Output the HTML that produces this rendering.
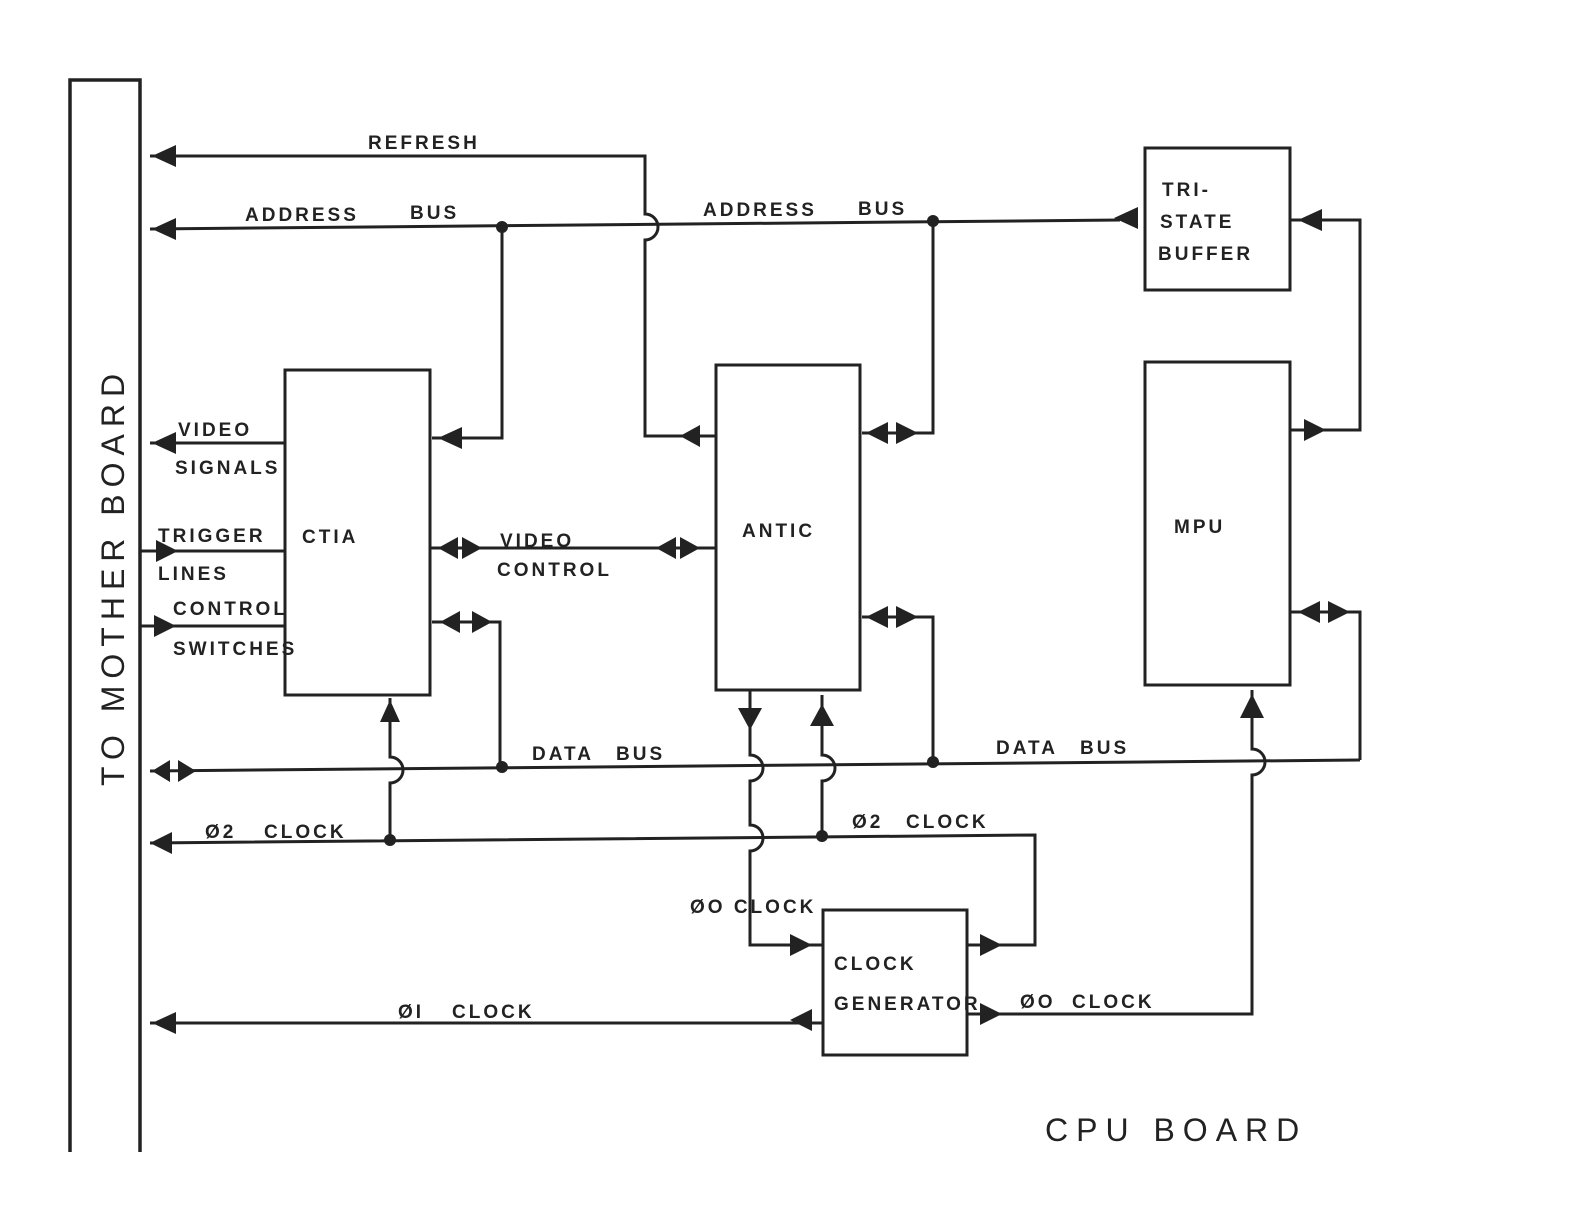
<!DOCTYPE html>
<html><head><style>
html,body{margin:0;padding:0;background:#fff;}
svg{display:block;}
text{font-family:"Liberation Sans",sans-serif;font-weight:bold;fill:#222;font-size:19px;letter-spacing:3px;}
</style></head><body>
<svg width="1584" height="1228" viewBox="0 0 1584 1228" xmlns="http://www.w3.org/2000/svg">
<g stroke="#222" stroke-width="3" fill="none">
<path d="M70 1152 V80 H140 V1152" stroke-width="3.5"/>
<path d="M150 156 H645 V214 A13 13 0 0 1 645 240 V436 H716"/>
<path d="M150 229 L1120 220"/>
<path d="M502 227 V438 H432"/>
<path d="M933 221 V433 H862"/>
<rect x="1145" y="148" width="145" height="142"/>
<rect x="1145" y="362" width="145" height="323"/>
<path d="M1290 220 H1360 V430 H1290"/>
<path d="M1290 612 H1360 V760"/>
<path d="M150 771 L1360 760"/>
<path d="M432 622 H500 V768"/>
<path d="M862 617 H933 V762"/>
<rect x="285" y="370" width="145" height="325"/>
<path d="M150 443 H285 M140 551 H285 M140 626 H285"/>
<path d="M430 548 H716"/>
<path d="M390 838 V783 A13 13 0 0 0 390 757 V698"/>
<path d="M150 843 L1035 835 V945 H967"/>
<rect x="716" y="365" width="144" height="325"/>
<path d="M750 690 V755 A13 13 0 0 1 750 781 V825 A13 13 0 0 1 750 851 V945 H823"/>
<path d="M822 836 V781 A13 13 0 0 0 822 755 V695"/>
<rect x="823" y="910" width="144" height="145"/>
<path d="M150 1023 H823"/>
<path d="M967 1014 H1252 V775 A13 13 0 0 0 1252 749 V690"/>
</g>
<g fill="#222">
<circle cx="502" cy="227" r="6"/><circle cx="933" cy="221" r="6"/>
<circle cx="502" cy="767" r="6"/><circle cx="933" cy="762" r="6"/>
<circle cx="390" cy="840" r="6"/><circle cx="822" cy="836" r="6"/>
<polygon points="152,156 176,145 176,167"/>
<polygon points="152,229 176,218 176,240"/>
<polygon points="152,443 176,432 176,454"/>
<polygon points="178,551 156,540 156,562"/>
<polygon points="176,626 154,615 154,637"/>
<polygon points="152,771 170,760 170,782"/><polygon points="196,771 178,760 178,782"/>
<polygon points="150,843 172,832 172,854"/>
<polygon points="152,1023 176,1012 176,1034"/>
<polygon points="438,438 462,427 462,449"/>
<polygon points="438,548 458,537 458,559"/><polygon points="482,548 462,537 462,559"/>
<polygon points="440,622 460,611 460,633"/><polygon points="492,622 472,611 472,633"/>
<polygon points="390,700 380,722 400,722"/>
<polygon points="656,548 676,537 676,559"/><polygon points="700,548 680,537 680,559"/>
<polygon points="680,436 700,425 700,447"/>
<polygon points="866,433 888,422 888,444"/><polygon points="918,433 896,422 896,444"/>
<polygon points="866,617 888,606 888,628"/><polygon points="918,617 896,606 896,628"/>
<polygon points="750,730 738,708 762,708"/>
<polygon points="822,704 810,726 834,726"/>
<polygon points="1114,218 1138,207 1138,229"/>
<polygon points="1298,220 1322,209 1322,231"/>
<polygon points="1326,430 1304,419 1304,441"/>
<polygon points="1298,612 1320,601 1320,623"/><polygon points="1350,612 1328,601 1328,623"/>
<polygon points="1252,694 1240,718 1264,718"/>
<polygon points="812,945 790,934 790,956"/>
<polygon points="1002,945 980,934 980,956"/>
<polygon points="790,1020 812,1009 812,1031"/>
<polygon points="1002,1014 980,1003 980,1025"/>
</g>
<text x="368" y="149">REFRESH</text>
<text x="245" y="221">ADDRESS</text><text x="410" y="219">BUS</text>
<text x="703" y="216">ADDRESS</text><text x="858" y="215">BUS</text>
<text x="1162" y="196">TRI-</text>
<text x="1160" y="228">STATE</text>
<text x="1158" y="260">BUFFER</text>
<text x="1174" y="533">MPU</text>
<text x="178" y="436">VIDEO</text>
<text x="175" y="474">SIGNALS</text>
<text x="158" y="542">TRIGGER</text>
<text x="158" y="580">LINES</text>
<text x="173" y="615">CONTROL</text>
<text x="173" y="655">SWITCHES</text>
<text x="302" y="543">CTIA</text>
<text x="500" y="547">VIDEO</text>
<text x="497" y="576">CONTROL</text>
<text x="742" y="537">ANTIC</text>
<text x="532" y="760">DATA</text><text x="616" y="760">BUS</text>
<text x="996" y="754">DATA</text><text x="1080" y="754">BUS</text>
<text x="205" y="838">Ø2</text><text x="264" y="838">CLOCK</text>
<text x="852" y="828">Ø2</text><text x="906" y="828">CLOCK</text>
<text x="690" y="913">ØO CLOCK</text>
<text x="834" y="970">CLOCK</text>
<text x="834" y="1010">GENERATOR</text>
<text x="398" y="1018">ØI</text><text x="452" y="1018">CLOCK</text>
<text x="1020" y="1008">ØO</text><text x="1072" y="1008">CLOCK</text>
<text x="1045" y="1141" style="font-size:32px;letter-spacing:8px;font-weight:normal">CPU BOARD</text>
<text transform="translate(124,786) rotate(-90)" style="font-size:32px;letter-spacing:7px;font-weight:normal">TO MOTHER BOARD</text>
</svg>
</body></html>
